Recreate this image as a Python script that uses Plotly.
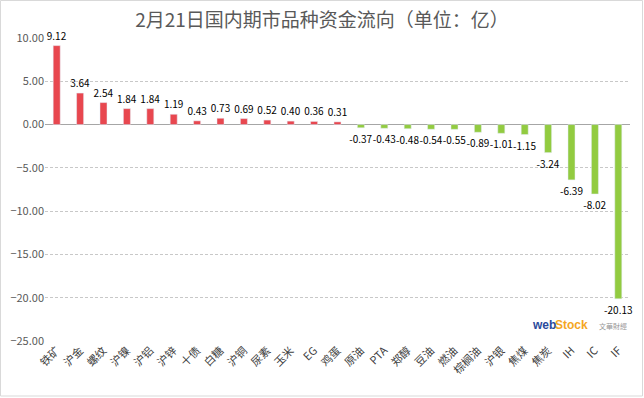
import plotly.graph_objects as go

categories = ["铁矿", "沪金", "螺纹", "沪镍", "沪铝", "沪锌", "十债", "白糖", "沪铜", "尿素",
              "玉米", "EG", "鸡蛋", "原油", "PTA", "郑醇", "豆油", "燃油", "棕榈油", "沪银",
              "焦煤", "焦炭", "IH", "IC", "IF"]
values = [9.12, 3.64, 2.54, 1.84, 1.84, 1.19, 0.43, 0.73, 0.69, 0.52,
          0.40, 0.36, 0.31, -0.37, -0.43, -0.48, -0.54, -0.55, -0.89, -1.01,
          -1.15, -3.24, -6.39, -8.02, -20.13]
y_ticks = [10, 5, 0, -5, -10, -15, -20, -25]

RED = "#E8474F"
GREEN = "#92CB40"
colors = [RED if v >= 0 else GREEN for v in values]
FONT = "Noto Sans CJK SC, Microsoft YaHei, sans-serif"

fig = go.Figure(go.Bar(
    x=categories, y=values, marker_color=colors, width=0.3,
    text=[f"{v:.2f}" for v in values], textposition="outside",
    textfont=dict(size=10, color="#000000", family=FONT),
    cliponaxis=False,
))

W, H = 644, 398
L, R, T, B = 45, 14, 38, 57
pw, ph = W - L - R, H - T - B

def px_x(p):
    return (p - L) / pw

def px_y(p):
    return (H - B - p) / ph

fig.update_layout(
    width=W, height=H,
    margin=dict(l=L, r=R, t=T, b=B, autoexpand=False),
    paper_bgcolor="white", plot_bgcolor="white",
    showlegend=False,
    title=dict(text="2月21日国内期市品种资金流向（单位：亿）", x=0.5, xanchor="center",
               y=1 - 20 / H, yanchor="middle", automargin=False,
               font=dict(size=19, color="#595959", family=FONT)),
    font=dict(family=FONT),
    xaxis=dict(tickangle=-45, tickfont=dict(size=11, color="#404040", family=FONT),
               showgrid=False, showline=False, ticks="", automargin=False),
    yaxis=dict(range=[-25, 10], tickvals=y_ticks, tickformat=".2f",
               tickfont=dict(size=11, color="#595959", family=FONT),
               showgrid=True, gridcolor="#C8C8C8", griddash="3px,2px", gridwidth=1,
               zeroline=True, zerolinecolor="#A6A6A6", zerolinewidth=1,
               showline=False, ticks="", automargin=False),
    bargap=0.7,
    uniformtext=dict(minsize=8, mode="show"),
    shapes=[dict(type="rect", xref="paper", yref="paper",
                 x0=px_x(0.5), x1=px_x(W - 1.5), y0=px_y(H - 2), y1=px_y(0.5),
                 line=dict(color="#D9D9D9", width=1), layer="below")],
    annotations=[
        dict(text="<b>web</b>", xref="paper", yref="paper", x=px_x(530), y=px_y(325),
             xanchor="left", yanchor="middle", showarrow=False,
             font=dict(size=12, color="#2B4A9B", family="Arial")),
        dict(text="<b>Stock</b>", xref="paper", yref="paper", x=px_x(553), y=px_y(325),
             xanchor="left", yanchor="middle", showarrow=False,
             font=dict(size=12, color="#F5A623", family="Arial")),
        dict(text="文華財經", xref="paper", yref="paper", x=px_x(597), y=px_y(326),
             xanchor="left", yanchor="middle", showarrow=False,
             font=dict(size=7, color="#999999", family=FONT)),
    ],
)

fig.write_html("out.html", config={"displayModeBar": False},
               post_script="document.body.style.margin='0';document.body.style.overflow='hidden';")
